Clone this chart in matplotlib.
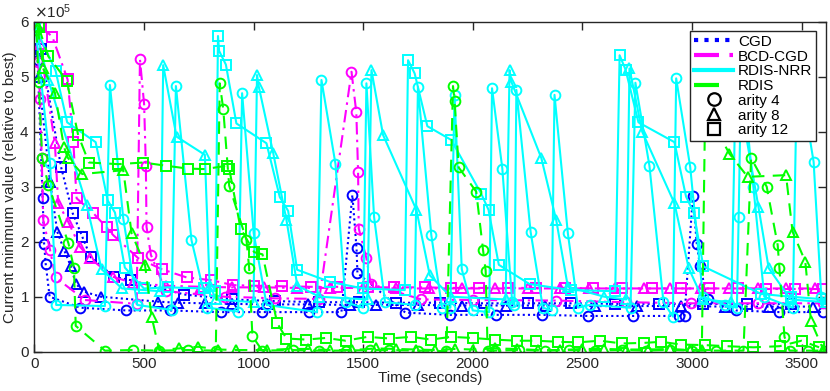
import matplotlib
matplotlib.use("Agg")
import matplotlib.pyplot as plt
from matplotlib.lines import Line2D
from matplotlib.ticker import ScalarFormatter

plt.rcParams['font.family'] = ['Liberation Sans', 'DejaVu Sans']

SCALE = 1e5  # values below are in units of 1e5

# ---------------- CGD (blue, dotted) ----------------
cgd4_t = [15, 38, 45, 52, 70, 210, 420, 620, 850, 1040, 1253, 1401, 1451, 1470, 1474, 1693, 1898, 2107, 2315, 2525, 2730, 2943, 2966, 3004, 3022, 3037, 3072, 3201, 3399, 3600]
cgd4_v = [5.3, 2.8, 1.95, 1.6, 1.0, 0.8, 0.75, 0.75, 0.72, 0.72, 0.72, 0.72, 2.85, 1.88, 1.43, 0.71, 0.67, 0.67, 0.67, 0.65, 0.65, 0.65, 0.65, 2.83, 1.96, 1.55, 0.95, 0.75, 0.72, 0.72]
cgd8_t = [20, 72, 105, 137, 166, 190, 228, 304, 565, 656, 780, 900, 1060, 1250, 1440, 1560, 1750, 1950, 2150, 2330, 2560, 2750, 2950, 3150, 3350, 3550]
cgd8_v = [5.0, 3.09, 2.18, 1.84, 1.56, 1.23, 1.09, 1.0, 0.91, 0.89, 0.88, 0.87, 0.86, 0.86, 0.85, 0.85, 0.85, 0.84, 0.84, 0.84, 0.83, 0.83, 0.83, 0.82, 0.82, 0.82]
cgd12_t = [30, 122, 175, 219, 257, 365, 441, 684, 900, 1100, 1300, 1480, 1650, 1850, 2050, 2250, 2450, 2650, 2850, 3050, 3250, 3450]
cgd12_v = [5.5, 3.36, 2.52, 2.09, 1.72, 1.36, 1.3, 1.04, 0.95, 0.92, 0.9, 0.9, 0.89, 0.89, 0.88, 0.88, 0.88, 0.87, 0.87, 0.87, 0.87, 0.87]

# ---------------- BCD-CGD (magenta, dash-dot) ----------------
bcd4_t = [18, 26, 34, 41, 72, 97, 231, 467, 482, 501, 509, 512, 532, 600, 869, 1100, 1300, 1447, 1469, 1477, 1480, 1515, 1535, 1766, 2000, 2378, 2700, 2996, 3300, 3600]
bcd4_v = [5.27, 4.6, 3.52, 2.39, 1.85, 1.35, 0.94, 0.87, 5.32, 4.5, 3.38, 2.27, 1.76, 1.1, 1.0, 0.97, 0.96, 5.09, 4.35, 3.27, 2.24, 1.7, 1.23, 0.95, 0.94, 0.93, 0.9, 0.88, 0.88, 0.88]
bcd8_t = [25, 94, 109, 155, 208, 254, 360, 450, 600, 760, 900, 1050, 1200, 1350, 1500, 1650, 1800, 1950, 2100, 2250, 2400, 2530, 2650, 2780, 2900, 3040, 3170, 3300, 3430, 3560]
bcd8_v = [5.6, 3.79, 2.7, 2.36, 1.91, 1.7, 1.36, 1.25, 1.2, 1.18, 1.17, 1.17, 1.16, 1.16, 1.16, 1.15, 1.15, 1.15, 1.15, 1.15, 1.15, 1.15, 1.15, 1.15, 1.15, 1.15, 1.15, 1.15, 1.15, 1.15]
bcd12_t = [30, 82, 152, 178, 193, 269, 330, 360, 474, 581, 695, 808, 907, 1000, 1130, 1260, 1380, 1520, 1640, 1780, 1900, 2030, 2160, 2290, 2420, 2550, 2680, 2820, 2950, 3080, 3210, 3340, 3470, 3600]
bcd12_v = [5.9, 5.73, 4.95, 3.82, 2.79, 2.52, 2.26, 2.12, 1.7, 1.5, 1.35, 1.3, 1.21, 1.2, 1.19, 1.18, 1.18, 1.17, 1.17, 1.17, 1.16, 1.16, 1.16, 1.16, 1.16, 1.15, 1.15, 1.15, 1.15, 1.15, 1.15, 1.14, 1.14, 1.14]

# ---------------- RDIS-NRR (cyan, solid) ----------------
nrr4_t = [5, 72, 100, 322, 345, 406, 470, 626, 646, 717, 790, 930, 948, 1001, 1060, 1290, 1310, 1374, 1420, 1500, 1515, 1550, 1600, 1735, 1750, 1811, 1860, 1898, 1917, 1950, 2000, 2075, 2088, 2135, 2180, 2190, 2199, 2264, 2320, 2360, 2373, 2434, 2480, 2533, 2720, 2742, 2806, 2870, 2913, 2928, 2992, 3050, 3150, 3205, 3213, 3225, 3280, 3330, 3460, 3480, 3555, 3590, 3610]
nrr4_v = [5.9, 3.43, 0.85, 0.83, 4.85, 2.42, 0.85, 0.76, 4.83, 2.03, 0.8, 0.73, 4.7, 2.15, 0.85, 0.72, 4.94, 3.41, 0.9, 0.8, 4.88, 2.45, 0.9, 0.85, 4.81, 2.12, 0.8, 0.8, 4.67, 1.5, 0.75, 0.72, 4.79, 3.33, 0.9, 0.85, 4.76, 2.18, 0.8, 0.75, 4.67, 2.15, 0.8, 0.85, 0.8, 4.89, 3.38, 0.9, 0.64, 4.97, 3.36, 1.0, 0.85, 0.8, 2.45, 5.2, 3.0, 1.0, 0.8, 5.3, 3.45, 1.0, 0.9]
nrr8_t = [5, 64, 239, 307, 400, 575, 588, 649, 778, 800, 830, 1000, 1016, 1024, 1090, 1150, 1200, 1300, 1520, 1538, 1591, 1743, 1804, 1900, 2150, 2168, 2176, 2313, 2381, 2434, 2600, 2700, 2715, 2773, 2920, 2985, 3050, 3180, 3200, 3303, 3350, 3450, 3610]
nrr8_v = [5.9, 4.94, 2.67, 1.5, 1.15, 1.1, 5.21, 3.91, 3.58, 1.2, 0.95, 0.9, 5.03, 4.82, 3.61, 2.4, 1.2, 1.0, 0.95, 5.12, 3.94, 2.58, 1.39, 1.0, 0.95, 5.12, 4.91, 3.52, 2.39, 1.18, 1.0, 0.95, 5.15, 4.0, 2.7, 1.52, 0.95, 0.9, 5.0, 2.64, 1.52, 0.95, 0.9]
nrr12_t = [5, 97, 150, 280, 335, 368, 413, 500, 611, 773, 825, 838, 843, 874, 922, 1059, 1120, 1158, 1199, 1348, 1500, 1690, 1705, 1735, 1793, 1902, 2039, 2072, 2119, 2259, 2450, 2650, 2670, 2697, 2756, 2920, 2973, 3008, 3052, 3316, 3450, 3610]
nrr12_v = [5.9, 5.11, 4.17, 3.81, 2.75, 2.53, 1.53, 1.15, 1.17, 1.15, 1.1, 5.74, 5.47, 5.22, 4.15, 3.79, 2.81, 2.56, 1.49, 1.27, 1.15, 1.12, 5.3, 5.06, 4.1, 3.85, 2.87, 2.58, 1.58, 1.23, 1.12, 1.1, 5.39, 5.13, 4.17, 3.81, 2.82, 2.53, 1.55, 1.05, 1.0, 0.95]

# ---------------- RDIS (green, dashed) ----------------
rdis4_t = [10, 20, 36, 64, 156, 181, 189, 322, 450, 570, 700, 828, 846, 862, 889, 968, 980, 995, 1040, 1181, 1300, 1420, 1530, 1620, 1750, 1880, 1910, 1917, 1936, 2016, 2047, 2059, 2068, 2100, 2210, 2330, 2440, 2560, 2680, 2790, 2900, 3000, 3110, 3235, 3270, 3341, 3391, 3399, 3422, 3445, 3530, 3610]
rdis4_v = [5.85, 4.9, 3.53, 3.03, 1.97, 1.52, 0.47, 0.02, 0.03, 0.02, 0.03, 0.02, 4.88, 4.41, 3.02, 2.03, 1.53, 0.28, 0.02, 0.03, 0.02, 0.02, 0.03, 0.03, 0.02, 0.01, 4.83, 4.56, 3.35, 2.91, 1.85, 1.47, 0.02, 0.02, 0.03, 0.02, 0.03, 0.02, 0.03, 0.02, 0.03, 0.02, 0.02, 0.02, 3.52, 3.0, 1.94, 1.52, 0.27, 0.02, 0.02, 0.02]
rdis8_t = [15, 41, 94, 135, 152, 219, 406, 444, 505, 535, 570, 660, 748, 840, 920, 1060, 1160, 1250, 1350, 1450, 1560, 1650, 1740, 1830, 1920, 2000, 2100, 2200, 2300, 2400, 2500, 2600, 2700, 2800, 2900, 2990, 3045, 3060, 3171, 3254, 3429, 3459, 3517, 3543, 3600]
rdis8_v = [5.9, 5.15, 4.71, 3.73, 3.53, 3.23, 3.3, 2.15, 1.58, 0.64, 0.03, 0.06, 0.09, 0.04, 0.03, 0.03, 0.05, 0.05, 0.03, 0.03, 0.06, 0.05, 0.04, 0.03, 0.05, 0.04, 0.06, 0.05, 0.03, 0.03, 0.05, 0.05, 0.04, 0.04, 0.05, 0.03, 0.03, 4.4, 3.6, 3.18, 3.21, 2.18, 1.64, 0.55, 0.03]
rdis12_t = [20, 64, 148, 200, 249, 383, 497, 603, 699, 778, 877, 889, 941, 1003, 1041, 1108, 1150, 1240, 1330, 1420, 1520, 1620, 1720, 1810, 1900, 2000, 2100, 2200, 2290, 2390, 2480, 2580, 2680, 2780, 2860, 2950, 3060, 3160, 3280, 3400, 3500, 3580]
rdis12_v = [5.9, 5.37, 4.93, 3.94, 3.44, 3.41, 3.44, 3.38, 3.33, 3.32, 3.38, 3.33, 2.24, 1.81, 1.77, 0.52, 0.24, 0.22, 0.25, 0.2, 0.27, 0.24, 0.27, 0.22, 0.27, 0.25, 0.22, 0.2, 0.2, 0.18, 0.17, 0.2, 0.15, 0.16, 0.18, 0.13, 0.12, 0.1, 0.08, 0.1, 0.2, 0.08]

methods = ['CGD', 'BCD-CGD', 'RDIS-NRR', 'RDIS']
arity_labels = ['arity 4', 'arity 8', 'arity 12']
data = {
    'CGD': [(cgd4_t, cgd4_v), (cgd8_t, cgd8_v), (cgd12_t, cgd12_v)],
    'BCD-CGD': [(bcd4_t, bcd4_v), (bcd8_t, bcd8_v), (bcd12_t, bcd12_v)],
    'RDIS-NRR': [(nrr4_t, nrr4_v), (nrr8_t, nrr8_v), (nrr12_t, nrr12_v)],
    'RDIS': [(rdis4_t, rdis4_v), (rdis8_t, rdis8_v), (rdis12_t, rdis12_v)],
}

colors = {'CGD': '#0000ff', 'BCD-CGD': '#ff00ff', 'RDIS-NRR': '#00ffff', 'RDIS': '#00ff00'}
styles = {'CGD': (0, (1, 1.5)), 'BCD-CGD': (0, (6, 2.5, 1.2, 2.5)), 'RDIS-NRR': '-', 'RDIS': (0, (6, 4))}
markers = ['o', '^', 's']

fig = plt.figure(figsize=(8.3, 3.91), dpi=100)
ax = fig.add_axes([0.0413, 0.1005, 0.9535, 0.844])

for m in methods:
    for k, (t, v) in enumerate(data[m]):
        ax.plot(t, [x * SCALE for x in v], linestyle=styles[m], color=colors[m], lw=1.5,
                marker=markers[k], markersize=7, markerfacecolor='none',
                markeredgecolor=colors[m], markeredgewidth=1.4)

ax.set_xlim(0, 3610)
ax.set_ylim(0, 6e5)
ax.set_xticks([0, 500, 1000, 1500, 2000, 2500, 3000, 3500])
ax.set_yticks([0, 1e5, 2e5, 3e5, 4e5, 5e5, 6e5])
fmt = ScalarFormatter(useMathText=True)
fmt.set_powerlimits((0, 0))
ax.yaxis.set_major_formatter(fmt)
ax.yaxis.get_offset_text().set_fontsize(11)
ax.yaxis.get_offset_text().set_color('#262626')

for s in ax.spines.values():
    s.set_color('#262626')
    s.set_linewidth(1.0)
ax.tick_params(direction='in', length=6, width=1.0, top=True, right=True,
               labelsize=11, colors='#262626')
ax.set_xlabel('Time (seconds)', fontsize=11, color='#262626', labelpad=0)
ax.set_ylabel('Current minimum value (relative to best)', fontsize=11, color='#262626', labelpad=2)

handles = [Line2D([], [], color=colors[m], linestyle=styles[m], lw=3) for m in methods]
handles += [Line2D([], [], color='k', linestyle='none', marker=mk, markersize=9,
                   markerfacecolor='none', markeredgewidth=1.6) for mk in markers]
labels = methods + arity_labels
leg = ax.legend(handles, labels, loc='upper right', bbox_to_anchor=(0.988, 0.972),
                fontsize=11, frameon=True, fancybox=False, framealpha=1,
                edgecolor='#262626', labelspacing=0.05, handlelength=2.6,
                handletextpad=0.3, borderpad=0.25, borderaxespad=0)
leg.get_frame().set_linewidth(1.0)

fig.savefig('out.png', dpi=100)
